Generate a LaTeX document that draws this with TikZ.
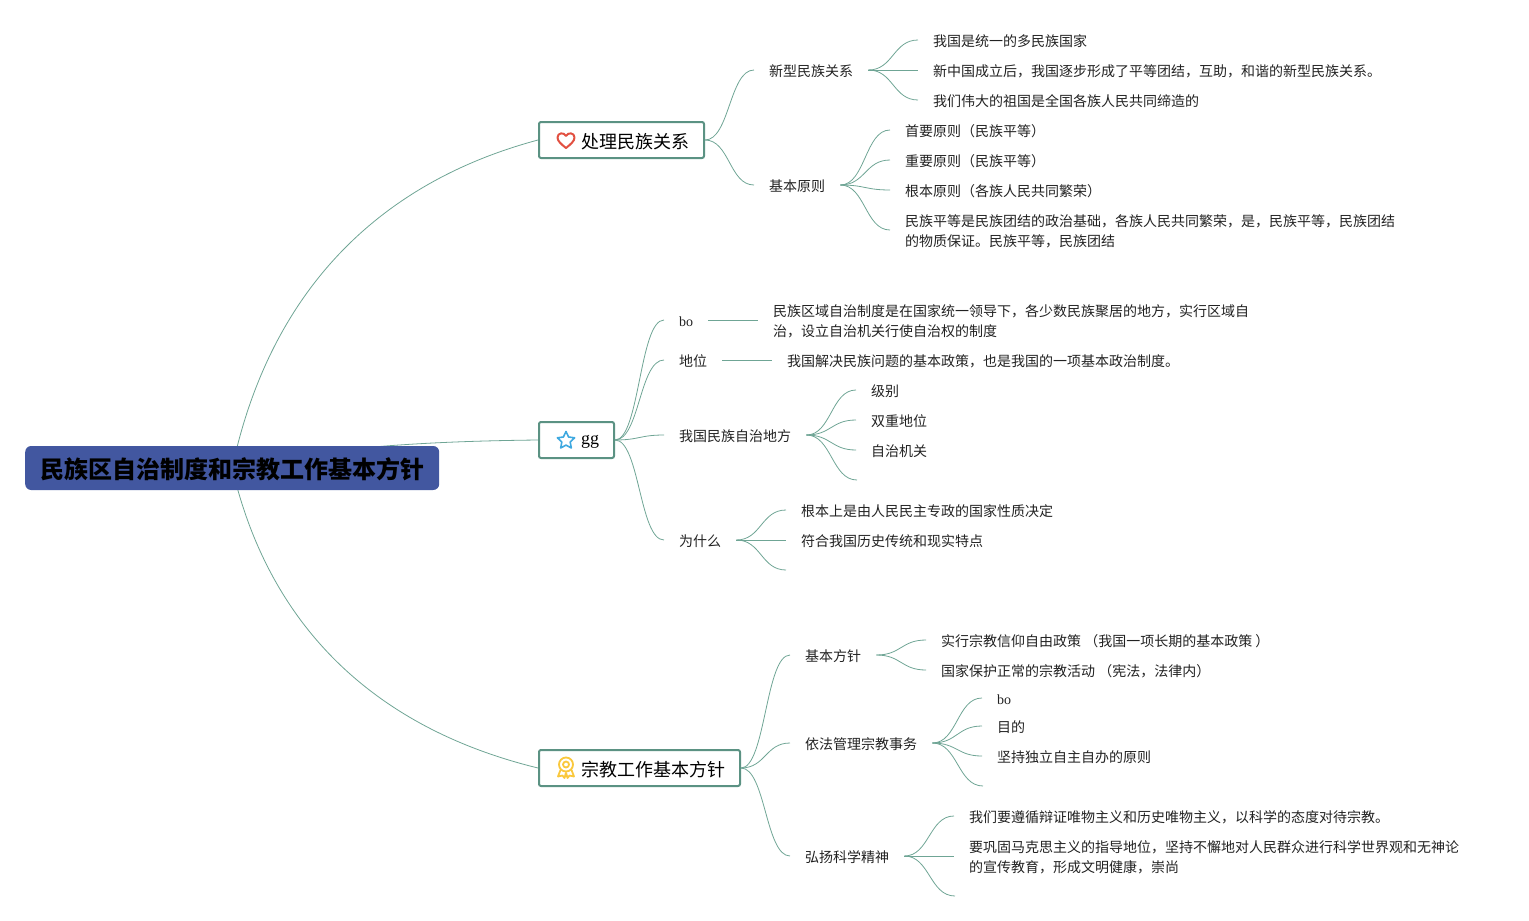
\documentclass[tikz,border=0pt]{standalone}
\usepackage{fontspec}
\setmainfont{Liberation Serif}
\newfontfamily\cjk{Noto Sans CJK SC}
\usetikzlibrary{calc,backgrounds}
\definecolor{branchc}{HTML}{6FA595}
\definecolor{framec}{HTML}{5B9283}
\definecolor{rootc}{HTML}{4257A0}
\definecolor{txtc}{HTML}{222222}
\newcommand{\lowertext}[1]{\raisebox{-1.5pt}[\height][\depth]{#1}}
\tikzset{
  x=1pt,y=-1pt,
  leaf/.style={anchor=west,yshift=-1.5pt,inner xsep=15pt,inner ysep=0pt,align=left,text=txtc,font=\cjk\fontsize{14}{20}\selectfont},
  latinleaf/.style={leaf,font=\fontsize{14}{20}\selectfont},
  head/.style={anchor=west,draw=framec,line width=2pt,rounded corners=2pt,fill=white,inner xsep=15pt,inner ysep=0pt,minimum height=36pt,text=black,font=\cjk\fontsize{18}{22}\selectfont},
  rootbox/.style={anchor=west,fill=rootc,rounded corners=6pt,minimum height=44pt,minimum width=414pt,inner sep=0pt,text=black,font=\cjk\bfseries\fontsize{24}{28}\selectfont},
  branch/.style={draw=branchc,line width=0.8pt},
  sc/.style={to path={let \p1=(\tikztostart),\p2=(\tikztotarget) in .. controls ({0.5*\x1+0.5*\x2},\y1) and ({0.5*\x1+0.5*\x2},\y2) .. (\tikztotarget)}},
}
\begin{document}
\begin{tikzpicture}
\useasboundingbox (0,0) rectangle (1529,921);
% root and main topics
\node[rootbox] (root) at (25,468) {\lowertext{民族区自治制度和宗教工作基本方针}};
\node[head] (h1) at (538,140) {\hspace*{27pt}\lowertext{处理民族关系}};
\node[head] (h2) at (538,440) {\hspace*{27pt}\lowertext{\fontspec{Liberation Serif}gg}};
\node[head] (h3) at (538,768) {\hspace*{27pt}\lowertext{宗教工作基本方针}};
% branch 1
\node[leaf] (a1) at (754,70) {新型民族关系};
\node[leaf] (a11) at (918,40) {我国是统一的多民族国家};
\node[leaf] (a12) at (918,70) {新中国成立后，我国逐步形成了平等团结，互助，和谐的新型民族关系。};
\node[leaf] (a13) at (918,100) {我们伟大的祖国是全国各族人民共同缔造的};
\node[leaf] (a2) at (754,185) {基本原则};
\node[leaf] (a21) at (890,130) {首要原则（民族平等）};
\node[leaf] (a22) at (890,160) {重要原则（民族平等）};
\node[leaf] (a23) at (890,190) {根本原则（各族人民共同繁荣）};
\node[leaf] (a24) at (890,230) {民族平等是民族团结的政治基础，各族人民共同繁荣，是，民族平等，民族团结\\的物质保证。民族平等，民族团结};
% branch 2
\node[latinleaf] (b1) at (664,320) {bo};
\node[leaf] (b11) at (758,320) {民族区域自治制度是在国家统一领导下，各少数民族聚居的地方，实行区域自\\治，设立自治机关行使自治权的制度};
\node[leaf] (b2) at (664,360) {地位};
\node[leaf] (b21) at (772,360) {我国解决民族问题的基本政策，也是我国的一项基本政治制度。};
\node[leaf] (b3) at (664,435) {我国民族自治地方};
\node[leaf] (b31) at (856,390) {级别};
\node[leaf] (b32) at (856,420) {双重地位};
\node[leaf] (b33) at (856,450) {自治机关};
\coordinate (b34) at (857,480);
\node[leaf] (b4) at (664,540) {为什么};
\node[leaf] (b41) at (786,510) {根本上是由人民民主专政的国家性质决定};
\node[leaf] (b42) at (786,540) {符合我国历史传统和现实特点};
\coordinate (b43) at (786,570);
% branch 3
\node[leaf] (c1) at (790,655) {基本方针};
\node[leaf] (c11) at (926,640) {实行宗教信仰自由政策 （我国一项长期的基本政策 ）};
\node[leaf] (c12) at (926,670) {国家保护正常的宗教活动 （宪法，法律内）};
\node[leaf] (c2) at (790,743) {依法管理宗教事务};
\node[latinleaf] (c21) at (982,698) {bo};
\node[leaf] (c22) at (982,726) {目的};
\node[leaf] (c23) at (982,756) {坚持独立自主自办的原则};
\coordinate (c24) at (983,786);
\node[leaf] (c3) at (790,856) {弘扬科学精神};
\node[leaf] (c31) at (954,816) {我们要遵循辩证唯物主义和历史唯物主义，以科学的态度对待宗教。};
\node[leaf] (c32) at (954,856) {要巩固马克思主义的指导地位，坚持不懈地对人民群众进行科学世界观和无神论\\的宣传教育，形成文明健康，崇尚};
\coordinate (c33) at (955,896);
% connectors
\begin{scope}[on background layer]
\draw[branch] (root.center) .. controls (268,300) and (370,185) .. (h1.west);
\draw[branch] (root.center) .. controls (330,445) and (450,441) .. (h2.west);
\draw[branch] (root.center) .. controls (268,622) and (370,727) .. (h3.west);
\foreach \p/\c in {h1/a1,h1/a2,h2/b1,h2/b2,h2/b3,h2/b4,h3/c1,h3/c2,h3/c3}
  {\draw[branch] (\p.east) to[sc] ([yshift=1.5pt]\c.west);}
\foreach \p/\c in {a1/a11,a1/a12,a1/a13,a2/a21,a2/a22,a2/a23,a2/a24,
  b3/b31,b3/b32,b3/b33,b4/b41,b4/b42,
  c1/c11,c1/c12,c2/c21,c2/c22,c2/c23,c3/c31,c3/c32,b1/b11,b2/b21}
  {\draw[branch] ([yshift=1.5pt]\p.east) to[sc] ([yshift=1.5pt]\c.west);}
\draw[branch] ([yshift=1.5pt]b3.east) to[sc] (b34);
\draw[branch] ([yshift=1.5pt]b4.east) to[sc] (b43);
\draw[branch] ([yshift=1.5pt]c2.east) to[sc] (c24);
\draw[branch] ([yshift=1.5pt]c3.east) to[sc] (c33);
\end{scope}
% icons
\draw[color={rgb,255:red,226;green,80;blue,65},line width=2pt,line join=round,fill=white]
  (566,148) .. controls (561,144) and (557.5,141) .. (557.5,137.5)
  .. controls (557.5,132.5) and (564,132) .. (566,136)
  .. controls (568,132) and (574.5,132.5) .. (574.5,137.5)
  .. controls (574.5,141) and (571,144) .. (566,148) -- cycle;
\draw[color={rgb,255:red,63;green,169;blue,224},line width=1.6pt,line join=round]
  (566,431.5) -- (568.6,437) -- (574.6,437.8) -- (570.2,442) -- (571.3,448) -- (566,445.1)
  -- (560.7,448) -- (561.8,442) -- (557.4,437.8) -- (563.4,437) -- cycle;
\begin{scope}[color={rgb,255:red,250;green,200;blue,60},line width=1.8pt,line join=round]
\draw (566,764.5) circle[radius=7];
\draw (566,764.5) circle[radius=3];
\draw (560.5,770) -- (558,776.5) -- (562.5,775.5) -- (564.5,778) -- (566,772.5);
\draw (571.5,770) -- (574,776.5) -- (569.5,775.5) -- (567.5,778) -- (566,772.5);
\end{scope}
\end{tikzpicture}
\end{document}
